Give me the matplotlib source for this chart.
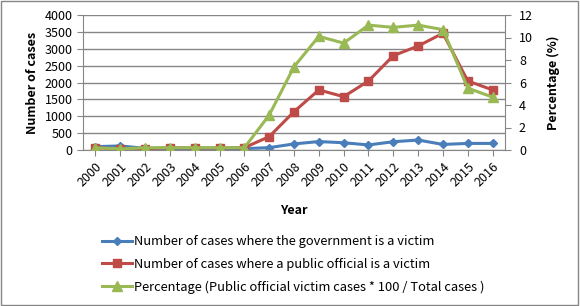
"""Recreate the victim-case trend chart (cases and percentage by year)."""

import matplotlib.pyplot as plt
from matplotlib.patches import Rectangle

years = [str(y) for y in range(2000, 2017)]
government_cases = [100, 120, 50, 40, 40, 35, 40, 70, 180, 250, 215, 150, 245, 295, 165, 195, 195]
official_cases = [70, 30, 40, 70, 60, 60, 70, 395, 1135, 1780, 1580, 2045, 2795, 3080, 3460, 2045, 1780]
official_pct = [0.2, 0.1, 0.2, 0.2, 0.2, 0.2, 0.2, 3.1, 7.4, 10.1, 9.5, 11.1, 10.9, 11.1, 10.7, 5.5, 4.7]

labels = [
    "Number of cases where the government is a victim",
    "Number of cases where a public official is a victim",
    "Percentage (Public official victim cases * 100 / Total cases )",
]

plt.rcParams["font.family"] = ["Noto Sans CJK KR", "DejaVu Sans"]

fig = plt.figure(figsize=(5.8, 3.06), dpi=100)
ax = fig.add_axes([83 / 580, 1 - 150 / 306, 422 / 580, 135 / 306])
ax2 = ax.twinx()

x = list(range(len(years)))
l1, = ax.plot(x, government_cases, color="#4a7ebb", marker="D", markersize=4.5, linewidth=2.2)
l2, = ax.plot(x, official_cases, color="#be4b48", marker="s", markersize=5.5, linewidth=2.2)
l3, = ax2.plot(x, official_pct, color="#98b954", marker="^", markersize=6.5, linewidth=2.2)

ax.set_xlim(-0.5, len(years) - 0.5)
ax.set_ylim(0, 4000)
ax.set_yticks(range(0, 4001, 500))
ax2.set_ylim(0, 12)
ax2.set_yticks(range(0, 13, 2))
ax.set_xticks(x)
ax.set_xticklabels(years, rotation=45, ha="right", rotation_mode="anchor")

ax.grid(axis="y", color="#868686", linewidth=1)
ax.set_axisbelow(True)
for spine in ["top", "right"]:
    ax.spines[spine].set_visible(False)
for spine in ["top", "left"]:
    ax2.spines[spine].set_visible(False)
ax.spines["left"].set_color("#868686")
ax.spines["bottom"].set_color("#868686")
ax2.spines["right"].set_color("#868686")
ax2.spines["bottom"].set_visible(False)
ax.tick_params(axis="both", labelsize=9, color="#868686", length=4, direction="out")
ax.tick_params(axis="x", pad=3)
ax2.tick_params(axis="y", labelsize=9, color="#868686", length=4, direction="out", pad=6)

ax.set_ylabel("Number of cases", fontsize=9, fontweight="bold", labelpad=4)
ax2.set_ylabel("Percentage (%)", fontsize=9, fontweight="bold", labelpad=10)
ax.set_xlabel("Year", fontsize=9, fontweight="bold", labelpad=11)

fig.legend(
    [l1, l2, l3], labels,
    loc="upper left", bbox_to_anchor=(97 / 580, 1 - 230 / 306),
    frameon=False, fontsize=9.3, handlelength=2.3, handletextpad=0.15,
    labelspacing=0.75, borderaxespad=0,
)

fig.patches.append(Rectangle((0.002, 0.003), 0.994, 0.993, transform=fig.transFigure,
                             fill=False, edgecolor="#868686", linewidth=1))

fig.savefig("out.png", dpi=100)
